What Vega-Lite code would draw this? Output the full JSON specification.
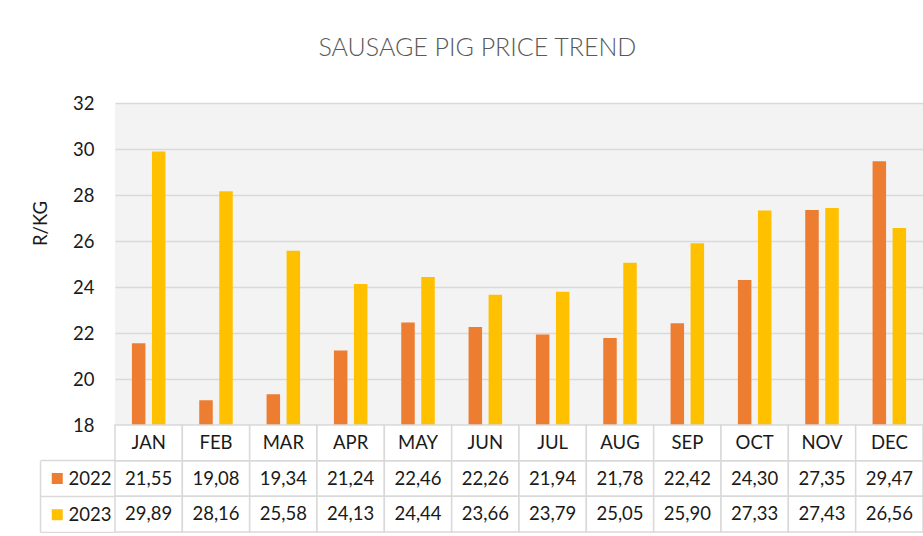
{
  "$schema": "https://vega.github.io/schema/vega-lite/v6.json",
  "padding": {"left": 31, "top": 36, "right": 0, "bottom": 0},
  "background": "white",
  "title": {"text": "SAUSAGE PIG PRICE TREND", "fontSize": 25, "font": "Lato", "fontWeight": 300, "color": "#595959", "anchor": "middle", "offset": 33},
  "config": {
    "view": {"stroke": null},
    "locale": {"number": {"decimal": ",", "thousands": " ", "grouping": [3], "currency": ["", ""]}}
  },
  "datasets": {
    "prices": [
      {"month": "JAN", "year": "2022", "value": 21.55}, {"month": "JAN", "year": "2023", "value": 29.89},
      {"month": "FEB", "year": "2022", "value": 19.08}, {"month": "FEB", "year": "2023", "value": 28.16},
      {"month": "MAR", "year": "2022", "value": 19.34}, {"month": "MAR", "year": "2023", "value": 25.58},
      {"month": "APR", "year": "2022", "value": 21.24}, {"month": "APR", "year": "2023", "value": 24.13},
      {"month": "MAY", "year": "2022", "value": 22.46}, {"month": "MAY", "year": "2023", "value": 24.44},
      {"month": "JUN", "year": "2022", "value": 22.26}, {"month": "JUN", "year": "2023", "value": 23.66},
      {"month": "JUL", "year": "2022", "value": 21.94}, {"month": "JUL", "year": "2023", "value": 23.79},
      {"month": "AUG", "year": "2022", "value": 21.78}, {"month": "AUG", "year": "2023", "value": 25.05},
      {"month": "SEP", "year": "2022", "value": 22.42}, {"month": "SEP", "year": "2023", "value": 25.90},
      {"month": "OCT", "year": "2022", "value": 24.30}, {"month": "OCT", "year": "2023", "value": 27.33},
      {"month": "NOV", "year": "2022", "value": 27.35}, {"month": "NOV", "year": "2023", "value": 27.43},
      {"month": "DEC", "year": "2022", "value": 29.47}, {"month": "DEC", "year": "2023", "value": 26.56}
    ]
  },
  "data": {"name": "prices"},
  "spacing": 0,
  "bounds": "flush",
  "resolve": {"legend": {"color": "independent"}},
  "vconcat": [
    {
      "width": 808,
      "height": 322,
      "view": {"fill": "#f3f3f3", "stroke": null},
      "mark": {"type": "bar", "clip": true},
      "encoding": {
        "x": {"field": "month", "type": "nominal", "scale": {"domain": ["JAN","FEB","MAR","APR","MAY","JUN","JUL","AUG","SEP","OCT","NOV","DEC"], "paddingInner": 0, "paddingOuter": 0}, "axis": null},
        "xOffset": {"field": "year", "type": "nominal", "scale": {"domain": ["2022","2023"], "paddingInner": 0.325, "paddingOuter": 0.845}},
        "y": {
          "field": "value", "type": "quantitative",
          "scale": {"domain": [18, 32], "nice": false, "zero": false},
          "axis": {
            "values": [18, 20, 22, 24, 26, 28, 30, 32],
            "title": "R/KG", "grid": true, "gridColor": "#d9d9d9", "gridWidth": 1.5,
            "domain": false, "ticks": false, "labelPadding": 21,
            "labelFontSize": 18.5, "labelFont": "Lato", "labelColor": "#1a1a1a",
            "titleFontSize": 18.5, "titleFont": "Lato", "titleFontWeight": "normal", "titleColor": "#1a1a1a",
            "titleX": -69, "titleY": 120, "titleBaseline": "alphabetic", "titleAngle": -90
          }
        },
        "color": {"field": "year", "type": "nominal", "scale": {"domain": ["2022","2023"], "range": ["#ED7D31","#FFC000"]}, "legend": null}
      }
    },
    {
      "width": 808,
      "height": 107,
      "view": {"stroke": null},
      "encoding": {
        "x": {"field": "month", "type": "nominal", "scale": {"domain": ["JAN","FEB","MAR","APR","MAY","JUN","JUL","AUG","SEP","OCT","NOV","DEC"], "paddingInner": 0, "paddingOuter": 0}, "axis": null}
      },
      "layer": [
        {
          "mark": {"type": "rect", "fill": "white", "stroke": "#d9d9d9", "strokeWidth": 1.5},
          "encoding": {
            "y": {
              "field": "year", "type": "nominal",
              "scale": {"domain": ["header","2022","2023"], "paddingInner": 0, "paddingOuter": 0},
              "axis": {
                "orient": "left", "offset": 75, "title": null, "labels": false, "grid": false,
                "domain": true, "domainColor": "#d9d9d9", "domainWidth": 1.5, "domainDash": [0, 35.67, 71.33],
                "ticks": true, "tickSize": -75, "tickColor": "#d9d9d9", "tickWidth": 1.5, "bandPosition": 1
              }
            }
          }
        },
        {
          "transform": [{"filter": "datum.year === '2022'"}],
          "mark": {"type": "rect", "fill": "white", "stroke": "#d9d9d9", "strokeWidth": 1.5},
          "encoding": {"y": {"datum": "header", "type": "nominal"}}
        },
        {
          "mark": {"type": "text", "font": "Lato", "fontSize": 18.5, "color": "#1a1a1a", "align": "center", "baseline": "middle"},
          "encoding": {
            "y": {"field": "year", "type": "nominal"},
            "text": {"field": "value", "type": "quantitative", "format": ".2f"}
          }
        },
        {
          "transform": [{"filter": "datum.year === '2022'"}],
          "mark": {"type": "text", "font": "Lato", "fontSize": 18.5, "color": "#1a1a1a", "align": "center", "baseline": "middle"},
          "encoding": {
            "y": {"datum": "header", "type": "nominal"},
            "text": {"field": "month", "type": "nominal"}
          }
        },
        {
          "mark": {"type": "square", "opacity": 0},
          "encoding": {
            "y": {"field": "year", "type": "nominal"},
            "color": {
              "field": "year", "type": "nominal",
              "scale": {"domain": ["2022","2023"], "range": ["#ED7D31","#FFC000"]},
              "legend": {
                "orient": "none", "legendX": -67, "legendY": 44.25, "title": null,
                "symbolType": "square", "symbolSize": 121, "symbolOpacity": 1, "symbolStrokeWidth": 0,
                "labelFontSize": 18.5, "labelFont": "Lato", "labelColor": "#1a1a1a", "labelOffset": 2,
                "rowPadding": 17.2, "padding": 0
              }
            }
          }
        }
      ]
    }
  ]
}
